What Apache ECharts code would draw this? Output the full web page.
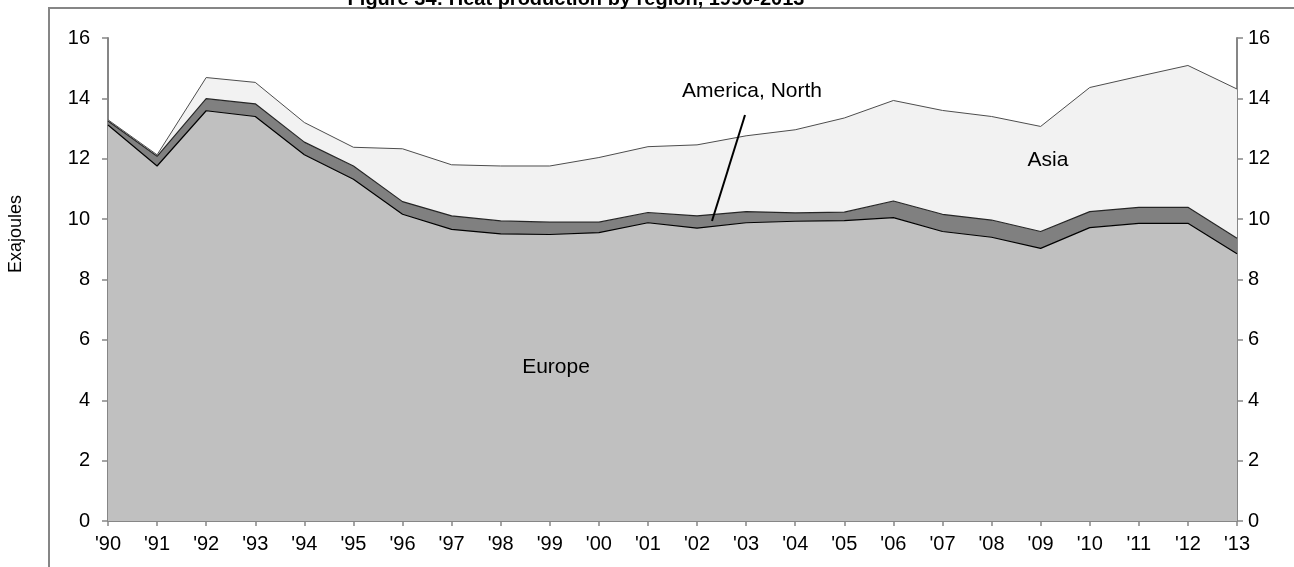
<!DOCTYPE html>
<html><head><meta charset="utf-8">
<script src="https://cdn.jsdelivr.net/npm/echarts/dist/echarts.min.js"></script>
<style>html,body{margin:0;padding:0;background:#fff}#c{width:1294px;height:567px}</style>
</head><body><div id="c"></div>
<script>
const years = ["'90","'91","'92","'93","'94","'95","'96","'97","'98","'99","'00","'01","'02","'03","'04","'05","'06","'07","'08","'09","'10","'11","'12","'13"];
const europe = [13.12, 11.76, 13.59, 13.40, 12.13, 11.32, 10.16, 9.66, 9.51, 9.49, 9.55, 9.88, 9.70, 9.88, 9.93, 9.95, 10.05, 9.59, 9.40, 9.03, 9.72, 9.86, 9.86, 8.85];
const americaNorth = [0.13, 0.32, 0.40, 0.42, 0.42, 0.44, 0.42, 0.45, 0.43, 0.41, 0.35, 0.34, 0.41, 0.37, 0.28, 0.28, 0.55, 0.57, 0.57, 0.56, 0.53, 0.53, 0.53, 0.52];
const asia = [0.04, 0.05, 0.70, 0.71, 0.65, 0.62, 1.75, 1.69, 1.82, 1.86, 2.14, 2.18, 2.35, 2.51, 2.75, 3.12, 3.33, 3.44, 3.43, 3.48, 4.11, 4.34, 4.70, 4.94];
const yMin = 0, yMax = 16, yStep = 2;
const titleText = 'Figure 34: Heat production by region, 1990-2013';
const yName = 'Exajoules';

const FONT = 'Liberation Sans, Arial, sans-serif';
const axisGray = '#868686';
const chart = echarts.init(document.getElementById('c'), null, {renderer: 'canvas'});

function yAxisCfg(pos, margin) {
  return {
    type: 'value', position: pos, min: yMin, max: yMax, interval: yStep,
    axisLine: {show: true, lineStyle: {color: axisGray, width: 2}},
    axisTick: {show: true, inside: false, length: 6, lineStyle: {color: axisGray, width: 1.5}},
    axisLabel: {color: '#000', fontSize: 20, fontFamily: FONT, margin: margin},
    splitLine: {show: false}
  };
}

chart.setOption({
  animation: false,
  backgroundColor: '#fff',
  grid: {left: 108, right: 57, top: 38, bottom: 46, containLabel: false},
  xAxis: {
    type: 'category', data: years, boundaryGap: false,
    axisLine: {show: true, lineStyle: {color: axisGray, width: 2}},
    axisTick: {show: true, length: 5, lineStyle: {color: axisGray, width: 1.5}},
    axisLabel: {color: '#000', fontSize: 20, fontFamily: FONT, margin: 13, interval: 0},
    splitLine: {show: false}
  },
  yAxis: [yAxisCfg('left', 18), yAxisCfg('right', 11)],
  series: [
    {name: 'Europe', type: 'line', stack: 'total', data: europe, symbol: 'none',
     lineStyle: {color: '#000', width: 1.2}, areaStyle: {color: '#c0c0c0', opacity: 1}},
    {name: 'America, North', type: 'line', stack: 'total', data: americaNorth, symbol: 'none',
     lineStyle: {color: '#262626', width: 1.2}, areaStyle: {color: '#808080', opacity: 1}},
    {name: 'Asia', type: 'line', stack: 'total', data: asia, symbol: 'none',
     lineStyle: {color: '#4d4d4d', width: 1}, areaStyle: {color: '#f2f2f2', opacity: 1}}
  ],
  graphic: [
    {type: 'rect', shape: {x: 49, y: 8, width: 1400, height: 800}, style: {fill: null, stroke: axisGray, lineWidth: 2}, z: 1},
    {type: 'text', x: 576, y: -1, style: {text: titleText, font: 'bold 20px ' + FONT, fill: '#000', align: 'center', verticalAlign: 'middle'}, z: 10},
    {type: 'text', x: 16, y: 234, rotation: Math.PI / 2, style: {text: yName, font: '18px ' + FONT, fill: '#000', align: 'center', verticalAlign: 'middle'}, z: 10},
    {type: 'text', x: 556, y: 367, style: {text: 'Europe', font: '21px ' + FONT, fill: '#000', align: 'center', verticalAlign: 'middle'}, z: 10},
    {type: 'text', x: 1048, y: 160, style: {text: 'Asia', font: '21px ' + FONT, fill: '#000', align: 'center', verticalAlign: 'middle'}, z: 10},
    {type: 'text', x: 752, y: 91, style: {text: 'America, North', font: '21px ' + FONT, fill: '#000', align: 'center', verticalAlign: 'middle'}, z: 10},
    {type: 'line', shape: {x1: 745, y1: 115, x2: 712, y2: 221}, style: {stroke: '#000', lineWidth: 2}, z: 10}
  ]
});
</script></body></html>
